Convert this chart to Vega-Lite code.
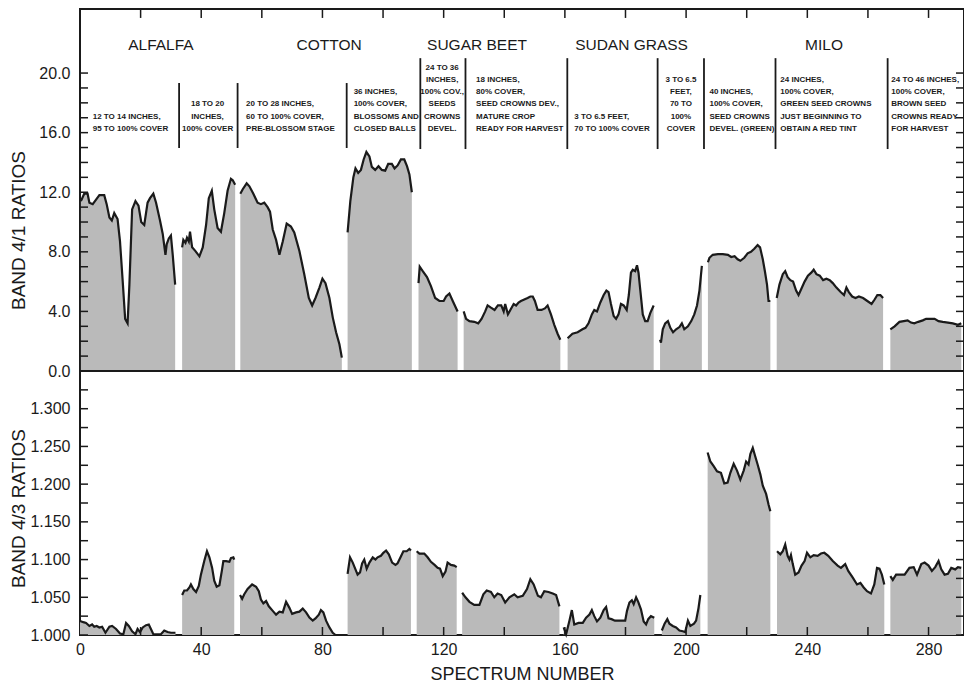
{
"$schema": "https://vega.github.io/schema/vega-lite/v6.json",
"padding": {"left": 8, "top": 7, "right": 0, "bottom": 0},
"spacing": 0,
"bounds": "flush",
"config": {
 "font": "Liberation Sans",
 "view": {"stroke": "#1a1a1a", "strokeWidth": 2},
 "axis": {"labelFont": "Liberation Sans", "labelColor": "#1a1a1a", "titleColor": "#1a1a1a", "domain": false, "grid": false, "ticks": false, "titleFontWeight": "normal", "labelFontSize": 16, "titleFontSize": 19, "titleFont": "Liberation Sans"}
},
"datasets": {
 "band41": [
  {"seg":1,"spectrum":0.3,"ratio":11.4},{"seg":1,"spectrum":1.4,"ratio":11.9},{"seg":1,"spectrum":2.5,"ratio":11.9},{"seg":1,"spectrum":3.1,"ratio":11.3},{"seg":1,"spectrum":4.2,"ratio":11.2},{"seg":1,"spectrum":5.3,"ratio":11.5},{"seg":1,"spectrum":6.4,"ratio":11.8},{"seg":1,"spectrum":8.0,"ratio":11.8},{"seg":1,"spectrum":8.8,"ratio":11.2},{"seg":1,"spectrum":9.7,"ratio":10.3},{"seg":1,"spectrum":10.5,"ratio":10.1},{"seg":1,"spectrum":11.3,"ratio":10.6},{"seg":1,"spectrum":12.4,"ratio":10.2},{"seg":1,"spectrum":13.2,"ratio":8.7},{"seg":1,"spectrum":14.1,"ratio":6.0},{"seg":1,"spectrum":14.9,"ratio":3.5},{"seg":1,"spectrum":15.7,"ratio":3.2},{"seg":1,"spectrum":16.3,"ratio":5.8},{"seg":1,"spectrum":17.2,"ratio":10.85},{"seg":1,"spectrum":18.3,"ratio":11.4},{"seg":1,"spectrum":19.3,"ratio":11.1},{"seg":1,"spectrum":20.2,"ratio":10.0},{"seg":1,"spectrum":21.2,"ratio":9.8},{"seg":1,"spectrum":22.3,"ratio":11.3},{"seg":1,"spectrum":23.1,"ratio":11.6},{"seg":1,"spectrum":24.2,"ratio":11.9},{"seg":1,"spectrum":25.1,"ratio":11.3},{"seg":1,"spectrum":26.4,"ratio":10.1},{"seg":1,"spectrum":27.3,"ratio":9.2},{"seg":1,"spectrum":28.2,"ratio":7.8},{"seg":1,"spectrum":28.6,"ratio":8.5},{"seg":1,"spectrum":29.3,"ratio":8.9},{"seg":1,"spectrum":30.0,"ratio":9.1},{"seg":1,"spectrum":30.6,"ratio":7.8},{"seg":1,"spectrum":31.4,"ratio":5.8},
  {"seg":2,"spectrum":33.7,"ratio":8.3},{"seg":2,"spectrum":34.1,"ratio":8.8},{"seg":2,"spectrum":34.8,"ratio":8.6},{"seg":2,"spectrum":35.3,"ratio":8.95},{"seg":2,"spectrum":35.9,"ratio":8.7},{"seg":2,"spectrum":36.3,"ratio":9.35},{"seg":2,"spectrum":37.0,"ratio":8.3},{"seg":2,"spectrum":38.1,"ratio":8.05},{"seg":2,"spectrum":39.4,"ratio":7.7},{"seg":2,"spectrum":40.5,"ratio":8.3},{"seg":2,"spectrum":41.6,"ratio":9.8},{"seg":2,"spectrum":42.5,"ratio":11.6},{"seg":2,"spectrum":43.5,"ratio":12.1},{"seg":2,"spectrum":44.3,"ratio":10.85},{"seg":2,"spectrum":45.4,"ratio":9.6},{"seg":2,"spectrum":46.5,"ratio":9.35},{"seg":2,"spectrum":47.6,"ratio":10.6},{"seg":2,"spectrum":48.7,"ratio":12.1},{"seg":2,"spectrum":49.8,"ratio":12.9},{"seg":2,"spectrum":50.4,"ratio":12.8},{"seg":2,"spectrum":51.2,"ratio":12.5},
  {"seg":3,"spectrum":52.9,"ratio":11.9},{"seg":3,"spectrum":53.7,"ratio":12.2},{"seg":3,"spectrum":55.0,"ratio":12.6},{"seg":3,"spectrum":55.9,"ratio":12.4},{"seg":3,"spectrum":57.2,"ratio":11.9},{"seg":3,"spectrum":58.6,"ratio":11.3},{"seg":3,"spectrum":59.7,"ratio":11.2},{"seg":3,"spectrum":60.8,"ratio":11.3},{"seg":3,"spectrum":61.9,"ratio":11.0},{"seg":3,"spectrum":62.7,"ratio":10.7},{"seg":3,"spectrum":63.6,"ratio":9.5},{"seg":3,"spectrum":64.7,"ratio":8.8},{"seg":3,"spectrum":65.8,"ratio":7.8},{"seg":3,"spectrum":66.9,"ratio":8.7},{"seg":3,"spectrum":68.2,"ratio":9.9},{"seg":3,"spectrum":69.6,"ratio":9.7},{"seg":3,"spectrum":70.7,"ratio":9.3},{"seg":3,"spectrum":72.4,"ratio":8.05},{"seg":3,"spectrum":74.0,"ratio":6.5},{"seg":3,"spectrum":75.5,"ratio":4.9},{"seg":3,"spectrum":76.6,"ratio":4.4},{"seg":3,"spectrum":77.7,"ratio":4.9},{"seg":3,"spectrum":79.0,"ratio":5.6},{"seg":3,"spectrum":80.0,"ratio":6.2},{"seg":3,"spectrum":81.0,"ratio":5.9},{"seg":3,"spectrum":82.3,"ratio":4.9},{"seg":3,"spectrum":83.4,"ratio":3.6},{"seg":3,"spectrum":84.5,"ratio":2.6},{"seg":3,"spectrum":85.6,"ratio":1.8},{"seg":3,"spectrum":86.4,"ratio":0.9},
  {"seg":4,"spectrum":88.3,"ratio":9.3},{"seg":4,"spectrum":89.2,"ratio":11.4},{"seg":4,"spectrum":90.2,"ratio":13.0},{"seg":4,"spectrum":90.9,"ratio":13.6},{"seg":4,"spectrum":91.8,"ratio":13.3},{"seg":4,"spectrum":92.7,"ratio":13.5},{"seg":4,"spectrum":93.6,"ratio":14.2},{"seg":4,"spectrum":94.5,"ratio":14.7},{"seg":4,"spectrum":95.5,"ratio":14.4},{"seg":4,"spectrum":96.3,"ratio":13.7},{"seg":4,"spectrum":97.4,"ratio":13.5},{"seg":4,"spectrum":98.5,"ratio":13.75},{"seg":4,"spectrum":99.6,"ratio":13.5},{"seg":4,"spectrum":100.7,"ratio":13.45},{"seg":4,"spectrum":101.7,"ratio":13.9},{"seg":4,"spectrum":102.9,"ratio":13.9},{"seg":4,"spectrum":103.8,"ratio":13.6},{"seg":4,"spectrum":104.8,"ratio":13.8},{"seg":4,"spectrum":105.9,"ratio":14.2},{"seg":4,"spectrum":107.0,"ratio":14.2},{"seg":4,"spectrum":107.9,"ratio":13.75},{"seg":4,"spectrum":108.7,"ratio":13.2},{"seg":4,"spectrum":109.5,"ratio":12.0},
  {"seg":5,"spectrum":111.7,"ratio":5.9},{"seg":5,"spectrum":112.1,"ratio":7.0},{"seg":5,"spectrum":113.1,"ratio":6.7},{"seg":5,"spectrum":114.5,"ratio":6.3},{"seg":5,"spectrum":115.8,"ratio":5.7},{"seg":5,"spectrum":117.2,"ratio":4.9},{"seg":5,"spectrum":118.6,"ratio":4.7},{"seg":5,"spectrum":120.0,"ratio":4.7},{"seg":5,"spectrum":120.8,"ratio":5.0},{"seg":5,"spectrum":121.9,"ratio":5.2},{"seg":5,"spectrum":123.0,"ratio":4.7},{"seg":5,"spectrum":124.6,"ratio":4.0},
  {"seg":6,"spectrum":126.6,"ratio":4.0},{"seg":6,"spectrum":127.4,"ratio":3.5},{"seg":6,"spectrum":128.5,"ratio":3.35},{"seg":6,"spectrum":130.1,"ratio":3.3},{"seg":6,"spectrum":131.4,"ratio":3.2},{"seg":6,"spectrum":132.5,"ratio":3.5},{"seg":6,"spectrum":133.7,"ratio":4.0},{"seg":6,"spectrum":134.5,"ratio":4.4},{"seg":6,"spectrum":135.6,"ratio":4.25},{"seg":6,"spectrum":136.8,"ratio":4.1},{"seg":6,"spectrum":137.9,"ratio":4.4},{"seg":6,"spectrum":139.0,"ratio":4.4},{"seg":6,"spectrum":139.8,"ratio":4.0},{"seg":6,"spectrum":140.3,"ratio":4.5},{"seg":6,"spectrum":141.2,"ratio":3.8},{"seg":6,"spectrum":142.0,"ratio":4.1},{"seg":6,"spectrum":143.1,"ratio":4.5},{"seg":6,"spectrum":143.9,"ratio":4.4},{"seg":6,"spectrum":144.7,"ratio":4.6},{"seg":6,"spectrum":145.5,"ratio":4.7},{"seg":6,"spectrum":146.6,"ratio":4.8},{"seg":6,"spectrum":147.7,"ratio":4.9},{"seg":6,"spectrum":148.6,"ratio":5.0},{"seg":6,"spectrum":149.4,"ratio":5.0},{"seg":6,"spectrum":150.1,"ratio":4.7},{"seg":6,"spectrum":151.0,"ratio":4.1},{"seg":6,"spectrum":152.3,"ratio":4.1},{"seg":6,"spectrum":153.4,"ratio":4.2},{"seg":6,"spectrum":154.3,"ratio":4.4},{"seg":6,"spectrum":155.4,"ratio":3.8},{"seg":6,"spectrum":156.5,"ratio":3.1},{"seg":6,"spectrum":157.6,"ratio":2.5},{"seg":6,"spectrum":158.5,"ratio":2.1},
  {"seg":7,"spectrum":160.9,"ratio":2.2},{"seg":7,"spectrum":162.5,"ratio":2.5},{"seg":7,"spectrum":164.2,"ratio":2.6},{"seg":7,"spectrum":165.8,"ratio":2.8},{"seg":7,"spectrum":166.8,"ratio":2.9},{"seg":7,"spectrum":167.8,"ratio":3.2},{"seg":7,"spectrum":168.9,"ratio":3.8},{"seg":7,"spectrum":169.7,"ratio":4.1},{"seg":7,"spectrum":170.6,"ratio":4.0},{"seg":7,"spectrum":171.7,"ratio":4.6},{"seg":7,"spectrum":172.8,"ratio":5.1},{"seg":7,"spectrum":173.7,"ratio":5.4},{"seg":7,"spectrum":174.4,"ratio":5.3},{"seg":7,"spectrum":175.2,"ratio":4.5},{"seg":7,"spectrum":176.1,"ratio":3.7},{"seg":7,"spectrum":176.9,"ratio":3.5},{"seg":7,"spectrum":177.7,"ratio":3.8},{"seg":7,"spectrum":178.5,"ratio":4.5},{"seg":7,"spectrum":179.4,"ratio":4.4},{"seg":7,"spectrum":180.4,"ratio":4.1},{"seg":7,"spectrum":181.1,"ratio":5.1},{"seg":7,"spectrum":181.8,"ratio":6.6},{"seg":7,"spectrum":182.4,"ratio":6.8},{"seg":7,"spectrum":183.2,"ratio":6.7},{"seg":7,"spectrum":183.8,"ratio":7.1},{"seg":7,"spectrum":184.3,"ratio":6.6},{"seg":7,"spectrum":184.9,"ratio":5.4},{"seg":7,"spectrum":185.7,"ratio":3.8},{"seg":7,"spectrum":186.5,"ratio":3.35},{"seg":7,"spectrum":187.3,"ratio":3.35},{"seg":7,"spectrum":188.2,"ratio":3.9},{"seg":7,"spectrum":189.3,"ratio":4.4},
  {"seg":8,"spectrum":191.4,"ratio":2.1},{"seg":8,"spectrum":191.7,"ratio":1.9},{"seg":8,"spectrum":192.3,"ratio":2.8},{"seg":8,"spectrum":193.1,"ratio":3.2},{"seg":8,"spectrum":194.0,"ratio":3.35},{"seg":8,"spectrum":194.8,"ratio":2.9},{"seg":8,"spectrum":195.7,"ratio":2.6},{"seg":8,"spectrum":196.7,"ratio":2.8},{"seg":8,"spectrum":197.8,"ratio":2.95},{"seg":8,"spectrum":198.6,"ratio":3.2},{"seg":8,"spectrum":199.4,"ratio":2.8},{"seg":8,"spectrum":200.6,"ratio":3.0},{"seg":8,"spectrum":201.7,"ratio":3.35},{"seg":8,"spectrum":202.7,"ratio":3.8},{"seg":8,"spectrum":203.6,"ratio":4.4},{"seg":8,"spectrum":204.4,"ratio":5.4},{"seg":8,"spectrum":205.2,"ratio":7.05},
  {"seg":9,"spectrum":207.2,"ratio":7.3},{"seg":9,"spectrum":207.7,"ratio":7.6},{"seg":9,"spectrum":208.8,"ratio":7.8},{"seg":9,"spectrum":210.5,"ratio":7.85},{"seg":9,"spectrum":212.1,"ratio":7.85},{"seg":9,"spectrum":213.8,"ratio":7.8},{"seg":9,"spectrum":214.9,"ratio":7.65},{"seg":9,"spectrum":216.0,"ratio":7.7},{"seg":9,"spectrum":217.0,"ratio":7.5},{"seg":9,"spectrum":217.9,"ratio":7.4},{"seg":9,"spectrum":219.2,"ratio":7.6},{"seg":9,"spectrum":220.3,"ratio":7.9},{"seg":9,"spectrum":221.4,"ratio":8.0},{"seg":9,"spectrum":222.5,"ratio":8.2},{"seg":9,"spectrum":223.6,"ratio":8.45},{"seg":9,"spectrum":224.4,"ratio":8.3},{"seg":9,"spectrum":225.3,"ratio":7.5},{"seg":9,"spectrum":226.0,"ratio":6.7},{"seg":9,"spectrum":226.7,"ratio":5.8},{"seg":9,"spectrum":227.2,"ratio":4.7},{"seg":9,"spectrum":227.8,"ratio":4.7},
  {"seg":10,"spectrum":229.9,"ratio":4.9},{"seg":10,"spectrum":230.8,"ratio":5.8},{"seg":10,"spectrum":231.9,"ratio":6.5},{"seg":10,"spectrum":232.7,"ratio":6.7},{"seg":10,"spectrum":233.5,"ratio":6.3},{"seg":10,"spectrum":234.4,"ratio":6.1},{"seg":10,"spectrum":235.3,"ratio":6.0},{"seg":10,"spectrum":236.3,"ratio":5.4},{"seg":10,"spectrum":237.1,"ratio":5.1},{"seg":10,"spectrum":238.0,"ratio":5.5},{"seg":10,"spectrum":239.1,"ratio":6.0},{"seg":10,"spectrum":240.2,"ratio":6.4},{"seg":10,"spectrum":241.3,"ratio":6.6},{"seg":10,"spectrum":242.1,"ratio":6.8},{"seg":10,"spectrum":243.0,"ratio":6.5},{"seg":10,"spectrum":244.1,"ratio":6.4},{"seg":10,"spectrum":245.2,"ratio":6.1},{"seg":10,"spectrum":246.3,"ratio":6.2},{"seg":10,"spectrum":247.4,"ratio":6.1},{"seg":10,"spectrum":248.4,"ratio":5.9},{"seg":10,"spectrum":249.6,"ratio":5.6},{"seg":10,"spectrum":251.0,"ratio":5.3},{"seg":10,"spectrum":252.1,"ratio":5.1},{"seg":10,"spectrum":252.9,"ratio":5.6},{"seg":10,"spectrum":253.7,"ratio":5.3},{"seg":10,"spectrum":254.8,"ratio":5.0},{"seg":10,"spectrum":255.9,"ratio":4.9},{"seg":10,"spectrum":257.0,"ratio":5.0},{"seg":10,"spectrum":258.4,"ratio":4.9},{"seg":10,"spectrum":259.8,"ratio":4.7},{"seg":10,"spectrum":261.2,"ratio":4.5},{"seg":10,"spectrum":262.2,"ratio":4.8},{"seg":10,"spectrum":263.1,"ratio":5.1},{"seg":10,"spectrum":264.1,"ratio":5.1},{"seg":10,"spectrum":265.0,"ratio":4.9},
  {"seg":11,"spectrum":267.4,"ratio":2.8},{"seg":11,"spectrum":268.8,"ratio":3.0},{"seg":11,"spectrum":270.4,"ratio":3.3},{"seg":11,"spectrum":271.8,"ratio":3.35},{"seg":11,"spectrum":273.1,"ratio":3.4},{"seg":11,"spectrum":274.2,"ratio":3.25},{"seg":11,"spectrum":275.3,"ratio":3.2},{"seg":11,"spectrum":276.6,"ratio":3.3},{"seg":11,"spectrum":278.1,"ratio":3.4},{"seg":11,"spectrum":279.2,"ratio":3.5},{"seg":11,"spectrum":280.6,"ratio":3.5},{"seg":11,"spectrum":282.0,"ratio":3.5},{"seg":11,"spectrum":283.3,"ratio":3.35},{"seg":11,"spectrum":284.7,"ratio":3.3},{"seg":11,"spectrum":286.4,"ratio":3.25},{"seg":11,"spectrum":288.0,"ratio":3.2},{"seg":11,"spectrum":289.7,"ratio":3.1},{"seg":11,"spectrum":290.8,"ratio":3.2}
 ],
 "band43": [
  {"seg":1,"spectrum":0.0,"ratio":1.0186},{"seg":1,"spectrum":1.1,"ratio":1.017},{"seg":1,"spectrum":2.0,"ratio":1.016},{"seg":1,"spectrum":3.1,"ratio":1.012},{"seg":1,"spectrum":4.0,"ratio":1.014},{"seg":1,"spectrum":4.7,"ratio":1.011},{"seg":1,"spectrum":5.5,"ratio":1.012},{"seg":1,"spectrum":6.4,"ratio":1.010},{"seg":1,"spectrum":7.3,"ratio":1.011},{"seg":1,"spectrum":8.4,"ratio":1.003},{"seg":1,"spectrum":9.7,"ratio":1.011},{"seg":1,"spectrum":10.6,"ratio":1.012},{"seg":1,"spectrum":11.9,"ratio":1.008},{"seg":1,"spectrum":13.2,"ratio":1.002},{"seg":1,"spectrum":14.3,"ratio":1.001},{"seg":1,"spectrum":15.2,"ratio":1.016},{"seg":1,"spectrum":16.1,"ratio":1.012},{"seg":1,"spectrum":17.2,"ratio":1.005},{"seg":1,"spectrum":18.3,"ratio":1.001},{"seg":1,"spectrum":19.0,"ratio":1.008},{"seg":1,"spectrum":19.8,"ratio":1.004},{"seg":1,"spectrum":20.7,"ratio":1.010},{"seg":1,"spectrum":21.8,"ratio":1.013},{"seg":1,"spectrum":22.7,"ratio":1.014},{"seg":1,"spectrum":23.4,"ratio":1.008},{"seg":1,"spectrum":24.2,"ratio":1.001},{"seg":1,"spectrum":25.6,"ratio":1.001},{"seg":1,"spectrum":26.7,"ratio":1.001},{"seg":1,"spectrum":27.8,"ratio":1.006},{"seg":1,"spectrum":28.9,"ratio":1.004},{"seg":1,"spectrum":30.0,"ratio":1.003},{"seg":1,"spectrum":31.5,"ratio":1.003},
  {"seg":2,"spectrum":33.7,"ratio":1.053},{"seg":2,"spectrum":34.4,"ratio":1.059},{"seg":2,"spectrum":35.3,"ratio":1.059},{"seg":2,"spectrum":36.1,"ratio":1.063},{"seg":2,"spectrum":36.6,"ratio":1.067},{"seg":2,"spectrum":37.4,"ratio":1.061},{"seg":2,"spectrum":38.3,"ratio":1.057},{"seg":2,"spectrum":39.2,"ratio":1.065},{"seg":2,"spectrum":39.9,"ratio":1.080},{"seg":2,"spectrum":41.0,"ratio":1.098},{"seg":2,"spectrum":41.9,"ratio":1.111},{"seg":2,"spectrum":42.7,"ratio":1.103},{"seg":2,"spectrum":43.6,"ratio":1.089},{"seg":2,"spectrum":44.3,"ratio":1.072},{"seg":2,"spectrum":45.1,"ratio":1.064},{"seg":2,"spectrum":46.0,"ratio":1.066},{"seg":2,"spectrum":46.8,"ratio":1.085},{"seg":2,"spectrum":47.3,"ratio":1.098},{"seg":2,"spectrum":48.2,"ratio":1.098},{"seg":2,"spectrum":49.3,"ratio":1.097},{"seg":2,"spectrum":49.8,"ratio":1.102},{"seg":2,"spectrum":50.6,"ratio":1.103},{"seg":2,"spectrum":50.9,"ratio":1.100},
  {"seg":3,"spectrum":52.8,"ratio":1.053},{"seg":3,"spectrum":53.5,"ratio":1.048},{"seg":3,"spectrum":54.2,"ratio":1.054},{"seg":3,"spectrum":55.3,"ratio":1.061},{"seg":3,"spectrum":56.8,"ratio":1.067},{"seg":3,"spectrum":58.1,"ratio":1.064},{"seg":3,"spectrum":59.0,"ratio":1.058},{"seg":3,"spectrum":59.7,"ratio":1.047},{"seg":3,"spectrum":60.5,"ratio":1.042},{"seg":3,"spectrum":61.4,"ratio":1.045},{"seg":3,"spectrum":62.3,"ratio":1.038},{"seg":3,"spectrum":63.6,"ratio":1.032},{"seg":3,"spectrum":64.7,"ratio":1.027},{"seg":3,"spectrum":65.8,"ratio":1.031},{"seg":3,"spectrum":66.9,"ratio":1.030},{"seg":3,"spectrum":68.0,"ratio":1.044},{"seg":3,"spectrum":69.1,"ratio":1.036},{"seg":3,"spectrum":70.0,"ratio":1.028},{"seg":3,"spectrum":71.3,"ratio":1.030},{"seg":3,"spectrum":72.4,"ratio":1.031},{"seg":3,"spectrum":73.5,"ratio":1.035},{"seg":3,"spectrum":74.6,"ratio":1.030},{"seg":3,"spectrum":75.7,"ratio":1.023},{"seg":3,"spectrum":76.8,"ratio":1.019},{"seg":3,"spectrum":77.7,"ratio":1.022},{"seg":3,"spectrum":78.8,"ratio":1.027},{"seg":3,"spectrum":79.5,"ratio":1.033},{"seg":3,"spectrum":80.3,"ratio":1.030},{"seg":3,"spectrum":81.2,"ratio":1.019},{"seg":3,"spectrum":82.3,"ratio":1.010},{"seg":3,"spectrum":83.4,"ratio":1.003},{"seg":3,"spectrum":84.3,"ratio":1.000},
  {"seg":4,"spectrum":88.3,"ratio":1.081},{"seg":4,"spectrum":89.1,"ratio":1.103},{"seg":4,"spectrum":90.0,"ratio":1.096},{"seg":4,"spectrum":90.9,"ratio":1.087},{"seg":4,"spectrum":91.6,"ratio":1.080},{"seg":4,"spectrum":92.4,"ratio":1.083},{"seg":4,"spectrum":93.1,"ratio":1.095},{"seg":4,"spectrum":93.8,"ratio":1.100},{"seg":4,"spectrum":94.6,"ratio":1.088},{"seg":4,"spectrum":95.5,"ratio":1.096},{"seg":4,"spectrum":96.6,"ratio":1.103},{"seg":4,"spectrum":97.5,"ratio":1.100},{"seg":4,"spectrum":98.2,"ratio":1.103},{"seg":4,"spectrum":99.3,"ratio":1.105},{"seg":4,"spectrum":100.1,"ratio":1.109},{"seg":4,"spectrum":101.0,"ratio":1.112},{"seg":4,"spectrum":101.9,"ratio":1.107},{"seg":4,"spectrum":103.0,"ratio":1.096},{"seg":4,"spectrum":104.1,"ratio":1.093},{"seg":4,"spectrum":104.8,"ratio":1.095},{"seg":4,"spectrum":106.0,"ratio":1.105},{"seg":4,"spectrum":106.7,"ratio":1.111},{"seg":4,"spectrum":107.8,"ratio":1.111},{"seg":4,"spectrum":108.7,"ratio":1.114},{"seg":4,"spectrum":109.2,"ratio":1.112},
  {"seg":5,"spectrum":111.1,"ratio":1.111},{"seg":5,"spectrum":112.0,"ratio":1.108},{"seg":5,"spectrum":113.6,"ratio":1.108},{"seg":5,"spectrum":114.7,"ratio":1.103},{"seg":5,"spectrum":115.8,"ratio":1.097},{"seg":5,"spectrum":117.0,"ratio":1.093},{"seg":5,"spectrum":118.0,"ratio":1.089},{"seg":5,"spectrum":118.8,"ratio":1.088},{"seg":5,"spectrum":119.7,"ratio":1.078},{"seg":5,"spectrum":120.6,"ratio":1.084},{"seg":5,"spectrum":121.3,"ratio":1.096},{"seg":5,"spectrum":122.4,"ratio":1.093},{"seg":5,"spectrum":123.5,"ratio":1.092},{"seg":5,"spectrum":124.3,"ratio":1.090},
  {"seg":6,"spectrum":126.1,"ratio":1.056},{"seg":6,"spectrum":127.2,"ratio":1.050},{"seg":6,"spectrum":128.5,"ratio":1.044},{"seg":6,"spectrum":130.1,"ratio":1.040},{"seg":6,"spectrum":131.8,"ratio":1.040},{"seg":6,"spectrum":133.1,"ratio":1.054},{"seg":6,"spectrum":134.2,"ratio":1.059},{"seg":6,"spectrum":135.6,"ratio":1.057},{"seg":6,"spectrum":136.7,"ratio":1.050},{"seg":6,"spectrum":137.8,"ratio":1.055},{"seg":6,"spectrum":139.0,"ratio":1.053},{"seg":6,"spectrum":140.3,"ratio":1.043},{"seg":6,"spectrum":141.7,"ratio":1.050},{"seg":6,"spectrum":143.3,"ratio":1.054},{"seg":6,"spectrum":144.4,"ratio":1.050},{"seg":6,"spectrum":146.1,"ratio":1.052},{"seg":6,"spectrum":147.5,"ratio":1.061},{"seg":6,"spectrum":148.6,"ratio":1.074},{"seg":6,"spectrum":149.7,"ratio":1.067},{"seg":6,"spectrum":151.1,"ratio":1.052},{"seg":6,"spectrum":152.1,"ratio":1.050},{"seg":6,"spectrum":153.2,"ratio":1.058},{"seg":6,"spectrum":154.6,"ratio":1.057},{"seg":6,"spectrum":156.0,"ratio":1.055},{"seg":6,"spectrum":157.1,"ratio":1.053},{"seg":6,"spectrum":158.2,"ratio":1.038},
  {"seg":7,"spectrum":159.6,"ratio":1.010},{"seg":7,"spectrum":160.4,"ratio":1.001},{"seg":7,"spectrum":161.5,"ratio":1.019},{"seg":7,"spectrum":162.3,"ratio":1.033},{"seg":7,"spectrum":163.1,"ratio":1.014},{"seg":7,"spectrum":164.5,"ratio":1.016},{"seg":7,"spectrum":165.9,"ratio":1.016},{"seg":7,"spectrum":167.0,"ratio":1.023},{"seg":7,"spectrum":168.1,"ratio":1.027},{"seg":7,"spectrum":168.9,"ratio":1.033},{"seg":7,"spectrum":169.7,"ratio":1.025},{"seg":7,"spectrum":170.6,"ratio":1.018},{"seg":7,"spectrum":171.7,"ratio":1.023},{"seg":7,"spectrum":172.8,"ratio":1.033},{"seg":7,"spectrum":173.6,"ratio":1.037},{"seg":7,"spectrum":174.4,"ratio":1.022},{"seg":7,"spectrum":175.4,"ratio":1.021},{"seg":7,"spectrum":176.5,"ratio":1.019},{"seg":7,"spectrum":177.7,"ratio":1.019},{"seg":7,"spectrum":179.1,"ratio":1.019},{"seg":7,"spectrum":179.9,"ratio":1.019},{"seg":7,"spectrum":180.5,"ratio":1.032},{"seg":7,"spectrum":181.3,"ratio":1.043},{"seg":7,"spectrum":182.1,"ratio":1.046},{"seg":7,"spectrum":182.7,"ratio":1.041},{"seg":7,"spectrum":183.5,"ratio":1.050},{"seg":7,"spectrum":184.2,"ratio":1.044},{"seg":7,"spectrum":185.1,"ratio":1.034},{"seg":7,"spectrum":186.0,"ratio":1.018},{"seg":7,"spectrum":186.8,"ratio":1.014},{"seg":7,"spectrum":187.5,"ratio":1.021},{"seg":7,"spectrum":188.4,"ratio":1.025},{"seg":7,"spectrum":189.5,"ratio":1.023},
  {"seg":8,"spectrum":192.0,"ratio":1.006},{"seg":8,"spectrum":192.9,"ratio":1.015},{"seg":8,"spectrum":193.8,"ratio":1.021},{"seg":8,"spectrum":194.5,"ratio":1.015},{"seg":8,"spectrum":195.6,"ratio":1.012},{"seg":8,"spectrum":196.7,"ratio":1.010},{"seg":8,"spectrum":197.8,"ratio":1.006},{"seg":8,"spectrum":198.9,"ratio":1.005},{"seg":8,"spectrum":199.7,"ratio":1.004},{"seg":8,"spectrum":200.6,"ratio":1.019},{"seg":8,"spectrum":201.4,"ratio":1.012},{"seg":8,"spectrum":202.6,"ratio":1.015},{"seg":8,"spectrum":203.3,"ratio":1.019},{"seg":8,"spectrum":204.1,"ratio":1.036},{"seg":8,"spectrum":204.7,"ratio":1.053},
  {"seg":9,"spectrum":207.1,"ratio":1.242},{"seg":9,"spectrum":208.0,"ratio":1.230},{"seg":9,"spectrum":209.1,"ratio":1.224},{"seg":9,"spectrum":210.2,"ratio":1.217},{"seg":9,"spectrum":211.5,"ratio":1.215},{"seg":9,"spectrum":212.6,"ratio":1.201},{"seg":9,"spectrum":213.7,"ratio":1.202},{"seg":9,"spectrum":214.6,"ratio":1.215},{"seg":9,"spectrum":215.7,"ratio":1.227},{"seg":9,"spectrum":216.8,"ratio":1.218},{"seg":9,"spectrum":217.9,"ratio":1.206},{"seg":9,"spectrum":219.0,"ratio":1.218},{"seg":9,"spectrum":219.8,"ratio":1.230},{"seg":9,"spectrum":220.6,"ratio":1.226},{"seg":9,"spectrum":221.2,"ratio":1.240},{"seg":9,"spectrum":222.0,"ratio":1.248},{"seg":9,"spectrum":222.8,"ratio":1.237},{"seg":9,"spectrum":223.6,"ratio":1.226},{"seg":9,"spectrum":224.5,"ratio":1.213},{"seg":9,"spectrum":225.3,"ratio":1.198},{"seg":9,"spectrum":226.4,"ratio":1.187},{"seg":9,"spectrum":227.2,"ratio":1.173},{"seg":9,"spectrum":227.8,"ratio":1.164},
  {"seg":10,"spectrum":230.0,"ratio":1.111},{"seg":10,"spectrum":231.1,"ratio":1.107},{"seg":10,"spectrum":231.9,"ratio":1.111},{"seg":10,"spectrum":232.7,"ratio":1.120},{"seg":10,"spectrum":233.5,"ratio":1.105},{"seg":10,"spectrum":234.1,"ratio":1.100},{"seg":10,"spectrum":234.6,"ratio":1.106},{"seg":10,"spectrum":235.2,"ratio":1.094},{"seg":10,"spectrum":236.0,"ratio":1.080},{"seg":10,"spectrum":237.1,"ratio":1.083},{"seg":10,"spectrum":238.1,"ratio":1.092},{"seg":10,"spectrum":239.1,"ratio":1.098},{"seg":10,"spectrum":239.9,"ratio":1.109},{"seg":10,"spectrum":241.0,"ratio":1.103},{"seg":10,"spectrum":242.1,"ratio":1.106},{"seg":10,"spectrum":243.4,"ratio":1.105},{"seg":10,"spectrum":244.5,"ratio":1.108},{"seg":10,"spectrum":245.6,"ratio":1.109},{"seg":10,"spectrum":246.9,"ratio":1.105},{"seg":10,"spectrum":248.4,"ratio":1.098},{"seg":10,"spectrum":250.0,"ratio":1.092},{"seg":10,"spectrum":251.1,"ratio":1.089},{"seg":10,"spectrum":252.5,"ratio":1.094},{"seg":10,"spectrum":253.5,"ratio":1.085},{"seg":10,"spectrum":255.0,"ratio":1.076},{"seg":10,"spectrum":256.4,"ratio":1.067},{"seg":10,"spectrum":257.5,"ratio":1.069},{"seg":10,"spectrum":258.6,"ratio":1.063},{"seg":10,"spectrum":259.7,"ratio":1.058},{"seg":10,"spectrum":261.0,"ratio":1.055},{"seg":10,"spectrum":262.1,"ratio":1.067},{"seg":10,"spectrum":263.0,"ratio":1.089},{"seg":10,"spectrum":263.8,"ratio":1.088},{"seg":10,"spectrum":264.6,"ratio":1.080},{"seg":10,"spectrum":265.4,"ratio":1.067},
  {"seg":11,"spectrum":267.4,"ratio":1.078},{"seg":11,"spectrum":268.2,"ratio":1.073},{"seg":11,"spectrum":269.3,"ratio":1.080},{"seg":11,"spectrum":270.7,"ratio":1.080},{"seg":11,"spectrum":272.1,"ratio":1.080},{"seg":11,"spectrum":273.7,"ratio":1.089},{"seg":11,"spectrum":275.1,"ratio":1.090},{"seg":11,"spectrum":276.2,"ratio":1.080},{"seg":11,"spectrum":277.6,"ratio":1.094},{"seg":11,"spectrum":278.7,"ratio":1.096},{"seg":11,"spectrum":280.0,"ratio":1.092},{"seg":11,"spectrum":281.1,"ratio":1.085},{"seg":11,"spectrum":282.2,"ratio":1.090},{"seg":11,"spectrum":283.3,"ratio":1.098},{"seg":11,"spectrum":284.2,"ratio":1.087},{"seg":11,"spectrum":285.3,"ratio":1.080},{"seg":11,"spectrum":286.4,"ratio":1.081},{"seg":11,"spectrum":287.5,"ratio":1.089},{"seg":11,"spectrum":288.8,"ratio":1.087},{"seg":11,"spectrum":289.7,"ratio":1.090},{"seg":11,"spectrum":290.8,"ratio":1.089}
 ],
 "dividers": [
  {"spectrum":32.7,"ratio":19.33,"ratio2":14.97},{"spectrum":52.0,"ratio":19.33,"ratio2":14.97},{"spectrum":88.0,"ratio":19.33,"ratio2":14.97},
  {"spectrum":112.3,"ratio":21.0,"ratio2":14.9},{"spectrum":127.2,"ratio":21.0,"ratio2":14.9},{"spectrum":160.8,"ratio":21.0,"ratio2":14.9},{"spectrum":190.6,"ratio":21.0,"ratio2":14.9},{"spectrum":205.9,"ratio":21.0,"ratio2":14.9},{"spectrum":229.5,"ratio":21.0,"ratio2":14.9},{"spectrum":266.5,"ratio":21.0,"ratio2":14.9}
 ],
 "crops": [
  {"spectrum":26.7,"ratio":21.9,"text":"ALFALFA"},{"spectrum":82.2,"ratio":21.9,"text":"COTTON"},{"spectrum":131.0,"ratio":21.9,"text":"SUGAR BEET"},{"spectrum":182.0,"ratio":21.9,"text":"SUDAN GRASS"},{"spectrum":245.5,"ratio":21.9,"text":"MILO"}
 ],
 "notesLeft": [
  {"spectrum":4.2,"ratio":17.08,"text":"12 TO 14 INCHES,"},{"spectrum":4.2,"ratio":16.24,"text":"95 TO 100% COVER"},
  {"spectrum":54.8,"ratio":17.9,"text":"20 TO 28 INCHES,"},{"spectrum":54.8,"ratio":17.08,"text":"60 TO 100% COVER,"},{"spectrum":54.8,"ratio":16.24,"text":"PRE-BLOSSOM STAGE"},
  {"spectrum":90.3,"ratio":18.72,"text":"36 INCHES,"},{"spectrum":90.3,"ratio":17.9,"text":"100% COVER,"},{"spectrum":90.3,"ratio":17.08,"text":"BLOSSOMS AND"},{"spectrum":90.3,"ratio":16.24,"text":"CLOSED BALLS"},
  {"spectrum":130.7,"ratio":19.53,"text":"18 INCHES,"},{"spectrum":130.7,"ratio":18.72,"text":"80% COVER,"},{"spectrum":130.7,"ratio":17.9,"text":"SEED CROWNS DEV.,"},{"spectrum":130.7,"ratio":17.08,"text":"MATURE CROP"},{"spectrum":130.7,"ratio":16.24,"text":"READY FOR HARVEST"},
  {"spectrum":163.1,"ratio":17.08,"text":"3 TO 6.5 FEET,"},{"spectrum":163.1,"ratio":16.24,"text":"70 TO 100% COVER"},
  {"spectrum":207.7,"ratio":18.72,"text":"40 INCHES,"},{"spectrum":207.7,"ratio":17.9,"text":"100% COVER,"},{"spectrum":207.7,"ratio":17.08,"text":"SEED CROWNS"},{"spectrum":207.7,"ratio":16.24,"text":"DEVEL. (GREEN)"},
  {"spectrum":231.1,"ratio":19.53,"text":"24 INCHES,"},{"spectrum":231.1,"ratio":18.72,"text":"100% COVER,"},{"spectrum":231.1,"ratio":17.9,"text":"GREEN SEED CROWNS"},{"spectrum":231.1,"ratio":17.08,"text":"JUST BEGINNING TO"},{"spectrum":231.1,"ratio":16.24,"text":"OBTAIN A RED TINT"},
  {"spectrum":267.7,"ratio":19.53,"text":"24 TO 46 INCHES,"},{"spectrum":267.7,"ratio":18.72,"text":"100% COVER,"},{"spectrum":267.7,"ratio":17.9,"text":"BROWN SEED"},{"spectrum":267.7,"ratio":17.08,"text":"CROWNS READY"},{"spectrum":267.7,"ratio":16.24,"text":"FOR HARVEST"}
 ],
 "notesCenter": [
  {"spectrum":42.1,"ratio":17.9,"text":"18 TO 20"},{"spectrum":42.1,"ratio":17.08,"text":"INCHES,"},{"spectrum":42.1,"ratio":16.24,"text":"100% COVER"},
  {"spectrum":119.5,"ratio":20.36,"text":"24 TO 36"},{"spectrum":119.5,"ratio":19.53,"text":"INCHES,"},{"spectrum":119.5,"ratio":18.72,"text":"100% COV.,"},{"spectrum":119.5,"ratio":17.9,"text":"SEEDS"},{"spectrum":119.5,"ratio":17.08,"text":"CROWNS"},{"spectrum":119.5,"ratio":16.24,"text":"DEVEL."},
  {"spectrum":198.3,"ratio":19.53,"text":"3 TO 6.5"},{"spectrum":198.3,"ratio":18.72,"text":"FEET,"},{"spectrum":198.3,"ratio":17.9,"text":"70 TO"},{"spectrum":198.3,"ratio":17.08,"text":"100%"},{"spectrum":198.3,"ratio":16.24,"text":"COVER"}
 ],
 "ticks41Left": [
  {"spectrum":0,"ratio":0},{"spectrum":0,"ratio":1},{"spectrum":0,"ratio":2},{"spectrum":0,"ratio":3},{"spectrum":0,"ratio":4},{"spectrum":0,"ratio":5},{"spectrum":0,"ratio":6},{"spectrum":0,"ratio":7},{"spectrum":0,"ratio":8},{"spectrum":0,"ratio":9},{"spectrum":0,"ratio":10},{"spectrum":0,"ratio":11},{"spectrum":0,"ratio":12},{"spectrum":0,"ratio":13},{"spectrum":0,"ratio":14},{"spectrum":0,"ratio":15},{"spectrum":0,"ratio":16},{"spectrum":0,"ratio":17},{"spectrum":0,"ratio":18},{"spectrum":0,"ratio":19},{"spectrum":0,"ratio":20}
 ],
 "ticks41Right": [
  {"spectrum":291.7,"ratio":0},{"spectrum":291.7,"ratio":1},{"spectrum":291.7,"ratio":2},{"spectrum":291.7,"ratio":3},{"spectrum":291.7,"ratio":4},{"spectrum":291.7,"ratio":5},{"spectrum":291.7,"ratio":6},{"spectrum":291.7,"ratio":7},{"spectrum":291.7,"ratio":8},{"spectrum":291.7,"ratio":9},{"spectrum":291.7,"ratio":10},{"spectrum":291.7,"ratio":11},{"spectrum":291.7,"ratio":12},{"spectrum":291.7,"ratio":13},{"spectrum":291.7,"ratio":14},{"spectrum":291.7,"ratio":15},{"spectrum":291.7,"ratio":16},{"spectrum":291.7,"ratio":17},{"spectrum":291.7,"ratio":18},{"spectrum":291.7,"ratio":19},{"spectrum":291.7,"ratio":20}
 ],
 "ticks41Top": [
  {"spectrum":20,"ratio":24.3},{"spectrum":40,"ratio":24.3},{"spectrum":60,"ratio":24.3},{"spectrum":80,"ratio":24.3},{"spectrum":100,"ratio":24.3},{"spectrum":120,"ratio":24.3},{"spectrum":140,"ratio":24.3},{"spectrum":160,"ratio":24.3},{"spectrum":180,"ratio":24.3},{"spectrum":200,"ratio":24.3},{"spectrum":220,"ratio":24.3},{"spectrum":240,"ratio":24.3},{"spectrum":260,"ratio":24.3},{"spectrum":280,"ratio":24.3}
 ],
 "ticks43Left": [
  {"spectrum":0,"ratio":1.0},{"spectrum":0,"ratio":1.025},{"spectrum":0,"ratio":1.05},{"spectrum":0,"ratio":1.075},{"spectrum":0,"ratio":1.1},{"spectrum":0,"ratio":1.125},{"spectrum":0,"ratio":1.15},{"spectrum":0,"ratio":1.175},{"spectrum":0,"ratio":1.2},{"spectrum":0,"ratio":1.225},{"spectrum":0,"ratio":1.25},{"spectrum":0,"ratio":1.275},{"spectrum":0,"ratio":1.3},{"spectrum":0,"ratio":1.325}
 ],
 "ticks43Right": [
  {"spectrum":291.7,"ratio":1.0},{"spectrum":291.7,"ratio":1.025},{"spectrum":291.7,"ratio":1.05},{"spectrum":291.7,"ratio":1.075},{"spectrum":291.7,"ratio":1.1},{"spectrum":291.7,"ratio":1.125},{"spectrum":291.7,"ratio":1.15},{"spectrum":291.7,"ratio":1.175},{"spectrum":291.7,"ratio":1.2},{"spectrum":291.7,"ratio":1.225},{"spectrum":291.7,"ratio":1.25},{"spectrum":291.7,"ratio":1.275},{"spectrum":291.7,"ratio":1.3},{"spectrum":291.7,"ratio":1.325}
 ],
 "ticks43Bottom": [
  {"spectrum":20,"ratio":1.0},{"spectrum":40,"ratio":1.0},{"spectrum":60,"ratio":1.0},{"spectrum":80,"ratio":1.0},{"spectrum":100,"ratio":1.0},{"spectrum":120,"ratio":1.0},{"spectrum":140,"ratio":1.0},{"spectrum":160,"ratio":1.0},{"spectrum":180,"ratio":1.0},{"spectrum":200,"ratio":1.0},{"spectrum":220,"ratio":1.0},{"spectrum":240,"ratio":1.0},{"spectrum":260,"ratio":1.0},{"spectrum":280,"ratio":1.0}
 ]
},
"vconcat": [
 {
  "width": 884, "height": 362,
  "encoding": {
   "x": {"field": "spectrum", "type": "quantitative", "scale": {"domain": [0, 291.7], "nice": false, "zero": false},
    "axis": {"orient": "top", "labels": false, "ticks": false, "title": null}},
   "y": {"field": "ratio", "type": "quantitative", "stack": null, "scale": {"domain": [0, 24.3], "nice": false},
    "axis": {"orient": "left", "values": [0,4,8,12,16,20], "format": ".1f", "labelPadding": 10, "title": "BAND 4/1 RATIOS", "minExtent": 50, "maxExtent": 50, "titlePadding": 2, "titleY": 221}}
  },
  "layer": [
   {"data": {"name": "band41"}, "mark": {"type": "area", "color": "#bababa"}, "encoding": {"detail": {"field": "seg"}}},
   {"data": {"name": "band41"}, "mark": {"type": "line", "color": "#1a1a1a", "strokeWidth": 2.2}, "encoding": {"detail": {"field": "seg"}}},
   {"data": {"name": "dividers"}, "mark": {"type": "rule", "color": "#1a1a1a", "strokeWidth": 1.8}, "encoding": {"y2": {"field": "ratio2"}}},
   {"data": {"name": "ticks41Left"}, "mark": {"type": "rule", "color": "#1a1a1a", "strokeWidth": 1.5}, "encoding": {"x2": {"datum": 2.64}}},
   {"data": {"name": "ticks41Right"}, "mark": {"type": "rule", "color": "#1a1a1a", "strokeWidth": 1.5}, "encoding": {"x2": {"datum": 289.06}}},
   {"data": {"name": "ticks41Top"}, "mark": {"type": "rule", "color": "#1a1a1a", "strokeWidth": 1.5}, "encoding": {"y2": {"datum": 23.7}}},
   {"data": {"name": "crops"}, "mark": {"type": "text", "fontSize": 15.5, "font": "Liberation Sans", "color": "#1a1a1a", "align": "center", "baseline": "middle"}, "encoding": {"text": {"field": "text"}}},
   {"data": {"name": "notesLeft"}, "mark": {"type": "text", "fontSize": 8, "font": "Liberation Sans", "fontWeight": "bold", "color": "#1a1a1a", "align": "left", "baseline": "middle"}, "encoding": {"text": {"field": "text"}}},
   {"data": {"name": "notesCenter"}, "mark": {"type": "text", "fontSize": 8, "font": "Liberation Sans", "fontWeight": "bold", "color": "#1a1a1a", "align": "center", "baseline": "middle"}, "encoding": {"text": {"field": "text"}}}
  ]
 },
 {
  "width": 884, "height": 264,
  "encoding": {
   "x": {"field": "spectrum", "type": "quantitative", "scale": {"domain": [0, 291.7], "nice": false, "zero": false},
    "axis": {"orient": "bottom", "values": [0,40,80,120,160,200,240,280], "format": "d", "labelFlush": false, "labelPadding": 6, "title": "SPECTRUM NUMBER", "titleFontSize": 18, "titlePadding": 8}},
   "y": {"field": "ratio", "type": "quantitative", "stack": null, "scale": {"domain": [1.0, 1.35], "nice": false, "zero": false},
    "axis": {"orient": "left", "values": [1.0,1.05,1.1,1.15,1.2,1.25,1.3], "format": ".3f", "labelPadding": 10, "title": "BAND 4/3 RATIOS", "minExtent": 50, "maxExtent": 50, "titlePadding": 2, "titleY": 137}}
  },
  "layer": [
   {"data": {"name": "band43"}, "mark": {"type": "area", "color": "#bababa"}, "encoding": {"detail": {"field": "seg"}}},
   {"data": {"name": "band43"}, "mark": {"type": "line", "color": "#1a1a1a", "strokeWidth": 2.2}, "encoding": {"detail": {"field": "seg"}}},
   {"data": {"name": "ticks43Left"}, "mark": {"type": "rule", "color": "#1a1a1a", "strokeWidth": 1.5}, "encoding": {"x2": {"datum": 2.64}}},
   {"data": {"name": "ticks43Right"}, "mark": {"type": "rule", "color": "#1a1a1a", "strokeWidth": 1.5}, "encoding": {"x2": {"datum": 289.06}}},
   {"data": {"name": "ticks43Bottom"}, "mark": {"type": "rule", "color": "#1a1a1a", "strokeWidth": 1.5}, "encoding": {"y2": {"datum": 1.0106}}}
  ]
 }
]
}
